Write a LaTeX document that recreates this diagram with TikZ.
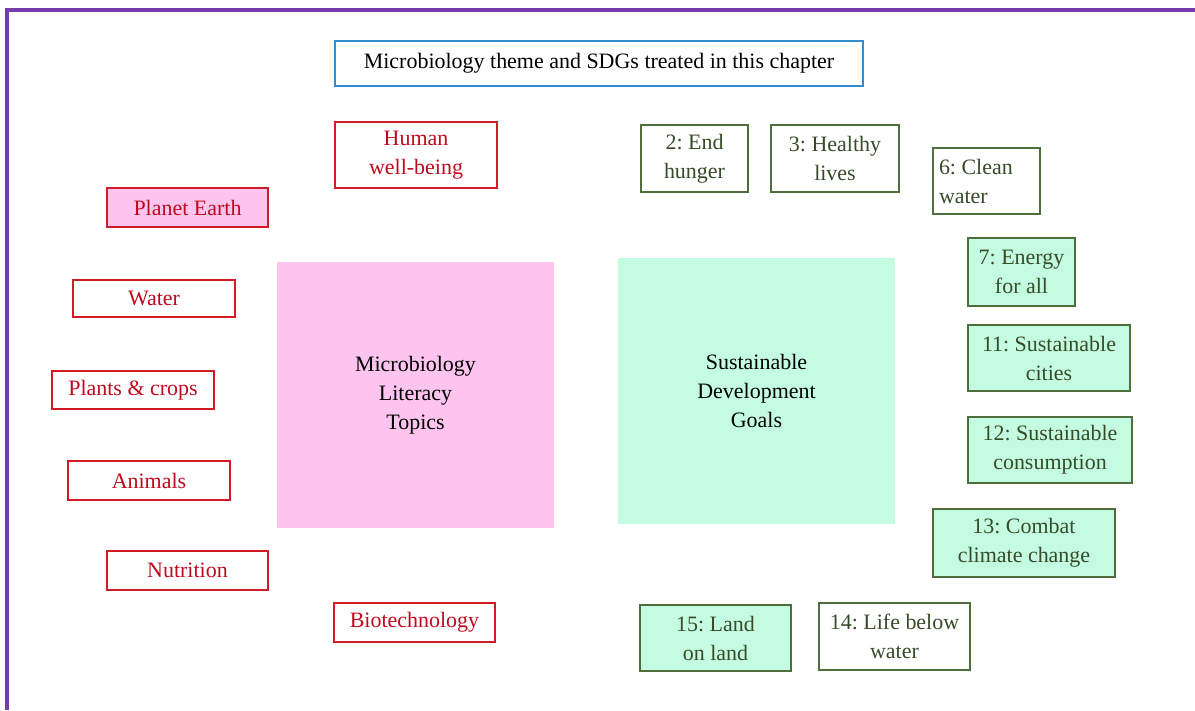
\documentclass[tikz,border=0pt]{standalone}
\usepackage{fontspec}
\setmainfont{Liberation Serif}
\frenchspacing

\definecolor{framepurple}{RGB}{120,60,170}
\definecolor{titleblue}{RGB}{50,140,210}
\definecolor{topicred}{RGB}{208,28,40}
\definecolor{topictext}{RGB}{190,10,30}
\definecolor{topicpink}{RGB}{252,196,238}
\definecolor{goalline}{RGB}{80,110,60}
\definecolor{goaltext}{RGB}{55,75,40}
\definecolor{goalmint}{RGB}{196,252,226}

\begin{document}
\begin{tikzpicture}[font=\fontsize{12.5}{16.5}\selectfont]
    \tikzstyle{topic}=[draw=topicred,line width=1pt,text=topictext,align=center,minimum width=3.24cm,minimum height=0.78cm,inner sep=2pt]
    \tikzstyle{goal}=[draw=goalline,line width=1pt,text=goaltext,align=center,minimum height=1.32cm,inner sep=2pt]
    \tikzstyle{block}=[align=center,minimum width=5.54cm,minimum height=5.32cm]

    \useasboundingbox (0,0) rectangle (23.9,-14.2);

    % Draw the frame
    \draw[framepurple,line width=2.2pt] (23.9,-0.2) -| (0.14,-14.2);

    % Draw the title
    \node[draw=titleblue,line width=1pt,minimum width=10.56cm,minimum height=0.9cm] (title) at (11.98,-1.27) {Microbiology theme and SDGs treated in this chapter};

    % Draw the two central blocks
    \node[block,fill=topicpink] (MLT) at (8.31,-7.9) {Microbiology\\Literacy\\Topics};
    \node[block,fill=goalmint] (SDG) at (15.13,-7.82) {Sustainable\\Development\\Goals};

    % Draw the topic nodes
    \node[topic,minimum height=1.32cm] (T-human) at (8.32,-3.1) {Human\\well-being};
    \node[topic,fill=topicpink,minimum width=3.22cm] (T-earth) at (3.75,-4.15) {Planet Earth};
    \node[topic,minimum height=0.74cm] (T-water) at (3.08,-5.97) {Water};
    \node[topic,minimum height=0.76cm] (T-plants) at (2.66,-7.8) {Plants \& crops};
    \node[topic] (T-animals) at (2.98,-9.61) {Animals};
    \node[topic,minimum width=3.22cm] (T-nutrition) at (3.75,-11.41) {Nutrition};
    \node[topic,minimum width=3.22cm] (T-biotech) at (8.29,-12.45) {Biotechnology};

    % Draw the goal nodes
    \node[goal,minimum width=2.14cm,minimum height=1.34cm] (G-2) at (13.89,-3.17) {2: End\\hunger};
    \node[goal,minimum width=2.56cm,minimum height=1.34cm] (G-3) at (16.7,-3.17) {3: Healthy\\lives};
    \node[goal,align=flush left,text width=1.9cm,minimum width=2.14cm,inner sep=0.12cm] (G-6) at (19.73,-3.62) {6: Clean\\water};
    \node[goal,fill=goalmint,minimum width=2.14cm,minimum height=1.36cm] (G-7) at (20.43,-5.44) {7: Energy\\for all};
    \node[goal,fill=goalmint,minimum width=3.24cm] (G-11) at (20.98,-7.16) {11: Sustainable\\cities};
    \node[goal,fill=goalmint,minimum width=3.28cm] (G-12) at (21.0,-9.0) {12: Sustainable\\consumption};
    \node[goal,fill=goalmint,minimum width=3.64cm,minimum height=1.36cm] (G-13) at (20.48,-10.86) {13: Combat\\climate change};
    \node[goal,fill=goalmint,minimum width=3.02cm] (G-15) at (14.31,-12.76) {15: Land\\on land};
    \node[goal,minimum width=3.02cm,minimum height=1.34cm] (G-14) at (17.89,-12.73) {14: Life below\\water};
\end{tikzpicture}
\end{document}
